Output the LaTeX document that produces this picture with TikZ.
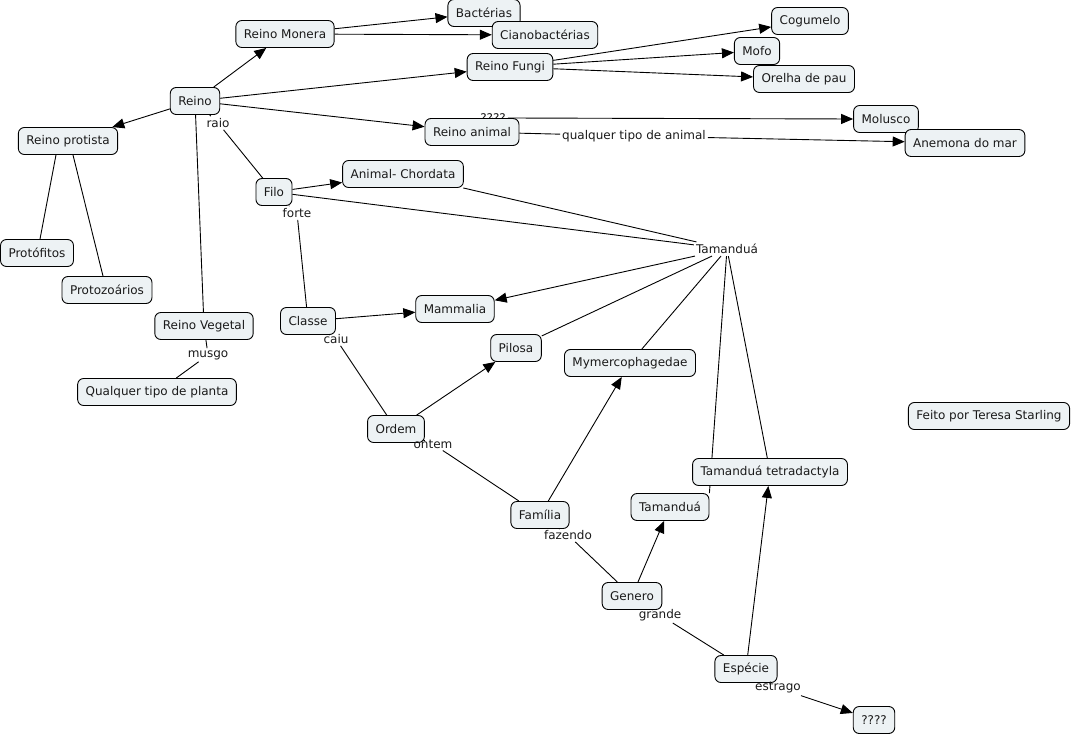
\documentclass[tikz,border=0pt]{standalone}
\usepackage{fontspec}
\setmainfont{DejaVu Sans}
\usetikzlibrary{arrows.meta,calc}
\pgfdeclarelayer{bg}
\pgfsetlayers{bg,main}
\definecolor{boxfill}{HTML}{EDF2F4}
\definecolor{ink}{HTML}{1A1A1A}
\tikzset{
  concept/.style={draw=black, fill=boxfill, rounded corners=6pt, line width=0.9pt,
    inner xsep=8pt, inner ysep=0pt, minimum height=27pt, text=ink,
    font=\fontsize{12}{14}\selectfont},
  phrase/.style={inner sep=2pt, text=ink, font=\fontsize{12}{14}\selectfont},
  link/.style={draw=black, line width=0.9pt},
  arr/.style={link, -{Triangle[length=12pt,width=10pt]}},
}
\begin{document}
\begin{tikzpicture}[x=1pt,y=-1pt]
\useasboundingbox (0,0) rectangle (1075,735);
% hidden linking phrase behind Reino animal
\node[phrase] (q4) at (493,118) {????};
% concepts
\node[concept] (bact) at (484,13) {Bactérias};
\node[concept] (monera) at (285,34) {Reino Monera};
\node[concept] (ciano) at (545,35) {Cianobactérias};
\node[concept] (cog) at (810,21) {Cogumelo};
\node[concept] (mofo) at (757,51) {Mofo};
\node[concept] (fungi) at (510,67) {Reino Fungi};
\node[concept] (orelha) at (804,79) {Orelha de pau};
\node[concept] (reino) at (195,101) {Reino};
\node[concept] (protista) at (68,141) {Reino protista};
\node[concept] (animal) at (472,132) {Reino animal};
\node[concept] (molusco) at (886,119) {Molusco};
\node[concept] (anemona) at (965,143) {Anemona do mar};
\node[concept] (filo) at (274,192) {Filo};
\node[concept] (chordata) at (403,174) {Animal- Chordata};
\node[concept] (protof) at (37,253) {Protófitos};
\node[concept] (protoz) at (107,290) {Protozoários};
\node[concept] (vegetal) at (204,326) {Reino Vegetal};
\node[concept] (classe) at (308,321) {Classe};
\node[concept] (mammalia) at (455,309) {Mammalia};
\node[concept] (pilosa) at (516,348) {Pilosa};
\node[concept] (myrm) at (630,363) {Mymercophagedae};
\node[concept] (planta) at (157,392) {Qualquer tipo de planta};
\node[concept] (ordem) at (396,429) {Ordem};
\node[concept] (feito) at (989,416) {Feito por Teresa Starling};
\node[concept] (tetra) at (770,472) {Tamanduá tetradactyla};
\node[concept] (tam2) at (670,507) {Tamanduá};
\node[concept] (familia) at (540,515) {Família};
\node[concept] (genero) at (632,596) {Genero};
\node[concept] (especie) at (746,669) {Espécie};
\node[concept] (q5) at (874,720) {????};
% linking phrases
\node[phrase] (raio) at (218,123) {raio};
\node[phrase] (qualquer) at (634,136) {qualquer tipo de animal};
\node[phrase] (forte) at (297,213) {forte};
\node[phrase] (tam1) at (727,249) {Tamanduá};
\node[phrase] (musgo) at (208,355) {musgo};
\node[phrase] (caiu) at (336,339) {caiu};
\node[phrase] (ontem) at (433,444) {ontem};
\node[phrase] (fazendo) at (568,535) {fazendo};
\node[phrase] (grande) at (660,615) {grande};
\node[phrase] (estrago) at (778,688) {estrago};
\begin{pgfonlayer}{bg}
% Reino
\draw[arr] (reino) -- (monera);
\draw[arr] (reino) -- (fungi);
\draw[arr] (reino) -- (animal);
\draw[arr] (reino) -- (protista);
\draw[link] (reino) -- (raio);
\draw[link] (raio) -- (filo);
\draw[link] (reino) -- (vegetal);
\draw[link] (vegetal) -- (musgo);
\draw[link] (musgo) -- (planta);
\draw[link] ($(protista.south)+(-12,0)$) -- ($(protof.north)+(3,0)$);
\draw[link] ($(protista.south)+(5,0)$) -- ($(protoz.north)+(-4,0)$);
% Monera, Fungi
\draw[arr] (monera) -- (bact);
\draw[arr] (monera) -- (ciano);
\draw[arr] (fungi) -- (cog);
\draw[arr] (fungi) -- (mofo);
\draw[arr] (fungi) -- (orelha);
% animal
\draw[link] (animal) -- (q4);
\draw[arr] (q4.east) -- (molusco.west);
\draw[link] (animal) -- (qualquer);
\draw[arr] (qualquer) -- (anemona);
% Filo
\draw[arr] (filo) -- (chordata);
\draw[link] (filo) -- (forte);
\draw[link] (forte) -- (classe);
\draw[link] (filo) -- (tam1);
\draw[link] (chordata) -- (tam1);
% Tamanduá phrase
\draw[arr] (tam1) -- (mammalia);
\draw[link] (tam1) -- (pilosa);
\draw[link] (tam1) -- (myrm);
\draw[link] (tam1) -- (tam2.north east);
\draw[link] (tam1) -- (tetra);
% lower chain
\draw[arr] (classe) -- (mammalia);
\draw[link] (classe) -- (caiu);
\draw[link] (caiu) -- (ordem);
\draw[arr] (ordem) -- (pilosa);
\draw[link] (ordem) -- (ontem);
\draw[link] (ontem) -- (familia);
\draw[arr] (familia) -- (myrm);
\draw[link] (familia) -- (fazendo);
\draw[link] (fazendo) -- (genero);
\draw[arr] (genero) -- (tam2);
\draw[link] (genero) -- (grande);
\draw[link] (grande) -- (especie);
\draw[arr] (especie) -- (tetra);
\draw[link] (especie) -- (estrago);
\draw[arr] (estrago) -- (q5);
\end{pgfonlayer}
\end{tikzpicture}
\end{document}
